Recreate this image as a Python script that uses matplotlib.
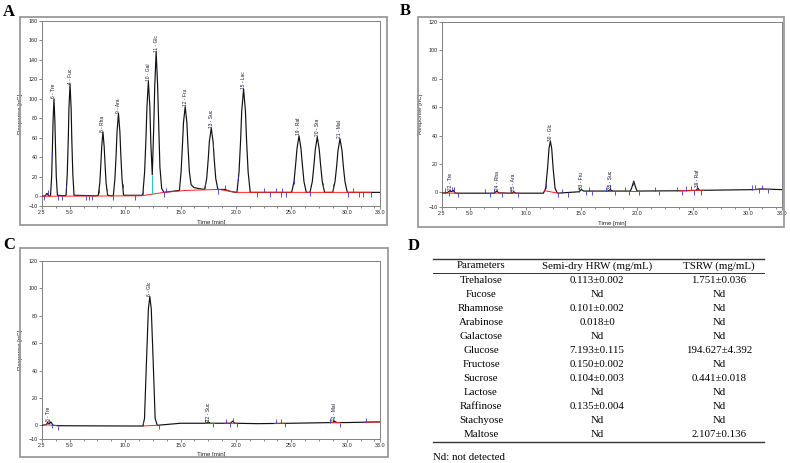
import numpy as np
import matplotlib
matplotlib.use("Agg")
import matplotlib.pyplot as plt
from matplotlib.patches import Rectangle
from matplotlib.lines import Line2D

W, H = 790, 463

# ---- panel A: standard mix chromatogram ----
a_time = [2.5, 2.8, 2.95, 3.1, 3.2,
          3.27, 3.37, 3.44, 3.50, 3.58, 3.66, 3.72, 3.79, 3.89, 4.5,
          4.67, 4.78, 4.87, 4.93, 5.03, 5.13, 5.19, 5.28, 5.39, 7.4,
          7.58, 7.72, 7.81, 7.89, 8.0, 8.11, 8.19, 8.28, 8.42, 8.8,
          8.94, 9.08, 9.19, 9.27, 9.4, 9.53, 9.61, 9.72, 9.86, 11.5,
          11.6, 11.76, 11.88, 11.97, 12.1, 12.23, 12.32, 12.45, 12.58, 12.67, 12.8, 12.93, 13.03,
          13.14, 13.3, 13.5, 14.9,
          15.05, 15.17, 15.27, 15.42, 15.57, 15.67, 15.8, 15.95, 16.2, 16.6,
          17.17, 17.36, 17.5, 17.6, 17.77, 17.94, 18.04, 18.18, 18.37, 19.0, 19.5, 20.0,
          20.09, 20.28, 20.42, 20.52, 20.69, 20.86, 20.96, 21.1, 21.29, 25.0,
          25.03, 25.24, 25.39, 25.51, 25.69, 25.87, 25.99, 26.14, 26.35,
          26.68, 26.89, 27.04, 27.16, 27.34, 27.52, 27.64, 27.79, 28.0,
          28.73, 28.94, 29.09, 29.21, 29.39, 29.57, 29.69, 29.84, 30.05, 33.0]
a_resp = [0, 0.5, 3, 0.5, 0,
          1, 20, 50, 78, 100, 78, 50, 20, 1, 0.5,
          1, 23, 58, 90, 115, 90, 58, 23, 1, 0.5,
          1, 14, 33, 51, 66, 51, 33, 14, 1, 0.5,
          1, 18, 43, 66, 85, 66, 43, 18, 1, 1,
          2, 25, 59, 92, 118, 92, 55, 22, 70, 112, 148, 115, 74,
          30, 8, 4, 6,
          25, 52, 76, 92, 76, 52, 25, 12, 9, 8,
          7, 18, 38, 56, 70, 56, 38, 18, 7, 7, 5, 4,
          4, 25, 57, 87, 110, 87, 57, 25, 4, 4,
          4, 15, 33, 49, 62, 49, 33, 15, 4,
          4, 15, 32, 48, 61, 48, 32, 15, 4,
          4, 15, 31, 47, 59, 47, 31, 15, 4, 4]
a_base_time = [2.5, 11.5, 13.5, 15.5, 18.5, 19.5, 20.1, 32.2]
a_base_resp = [0, 0.5, 4, 6, 7, 5, 4, 4]
a_split_time = 12.45   # Gal / Glc drop line
a_split_top = 22
a_peak_time = [3.58, 5.03, 8.0, 9.4, 12.1, 12.8, 15.42, 17.77, 20.69, 25.69, 27.34, 29.39]
a_peak_height = [100, 115, 66, 85, 118, 148, 92, 70, 110, 62, 61, 59]
a_peak_label = ["6 - Tre", "4 - Fuc", "8 - Rha", "9 - Ara", "10 - Gal", "11 - Glc", "12 - Fru",
                "13 - Suc", "15 - Lac", "19 - Raf", "20 - Sta", "21 - Mal"]
a_events = [2.68, 3.04, 3.43, 3.9, 4.34, 4.7, 6.44, 6.75, 7.05, 7.6, 8.35, 8.91, 9.8, 10.87, 11.59,
            13.52, 13.73, 17.2, 17.95, 18.4, 19.0, 20.2, 21.9, 22.5, 23.1, 23.6, 24.05, 24.2,
            24.5, 25.2, 26.7, 27.9, 28.8, 30.1, 30.6, 31.1, 31.5, 32.2]
a_event_dir = [-1, 1, -1, -1, -1, 1, -1, -1, -1, 1, -1, -1, 1, -1, 1,
               -1, 1, 1, -1, -1, 1, 1, -1, 1, -1, 1, -1, 1,
               -1, 1, -1, 1, 1, -1, 1, -1, -1, -1]

# ---- panel B: semi-dry HRW ----
b_time = [2.5, 3.0, 3.2, 3.35, 3.5, 3.7, 7.2, 7.4, 7.6, 8.8, 8.95, 9.1, 11.6,
          11.8, 11.97, 12.1, 12.22, 12.34, 12.47, 12.64, 12.85,
          14.8, 15.0, 15.2, 17.4, 17.6, 17.8, 19.4, 19.55, 19.7, 19.85, 20.0, 24.0,
          25.3, 25.45, 25.6, 30.5, 31.0, 33.0]
b_resp = [-0.5, 0, 1.2, 0.5, 1.5, -0.5, -0.5, 1, -0.3, -0.5, 0.5, -0.5, -0.5,
          3, 17, 31, 36, 31, 17, 3, -0.5,
          0.5, 2, 1, 1, 2, 1, 1, 4, 8, 4, 1, 1.2,
          1.5, 3, 1.5, 2, 2.5, 2]
b_base_segments = [(2.6, 4.0), (7.0, 8.0), (8.6, 9.4), (11.7, 12.9), (15.3, 16.0),
                   (17.1, 20.0), (23.8, 26.0), (30.4, 32.0)]
b_peak_time = [3.3, 7.45, 8.95, 12.22, 15.0, 17.6, 25.45]
b_peak_height = [1.5, 1, 0.5, 36, 2, 2, 3]
b_peak_label = ["22 - Tre", "24 - Rha", "25 - Ara", "30 - Glc", "33 - Fru", "35 - Suc", "39 - Raf"]
b_events = [2.8, 3.1, 3.4, 3.6, 3.9, 6.4, 6.8, 7.2, 7.9, 8.7, 9.3, 11.8, 12.9, 13.3, 13.8,
            14.8, 15.4, 15.7, 16.0, 17.2, 17.6, 18.0, 18.9, 19.3, 19.6, 20.2, 21.6, 22.0,
            23.6, 24.0, 24.4, 24.8, 25.1, 25.4, 25.7, 30.3, 30.6, 30.9, 31.2, 31.7]
b_event_dir = [1, -1, 1, 1, -1, 1, -1, 1, -1, 1, -1, 1, -1, 1, -1,
               1, -1, 1, -1, 1, 1, -1, 1, -1, 1, -1, 1, -1,
               1, -1, 1, 1, -1, 1, -1, 1, 1, -1, 1, -1]

# ---- panel C: TSRW ----
c_time = [2.5, 2.9, 3.0, 3.15, 3.3, 3.5, 4.0, 10.0, 11.6,
          11.75, 11.92, 12.1, 12.23, 12.36, 12.54, 12.71, 12.9,
          15.0, 17.3, 17.5, 17.7, 19.5, 19.7, 19.9, 22.0, 25.0, 28.7, 28.9, 29.1, 30.0, 33.0]
c_resp = [0, 0.5, 2, 1, 2.5, 0, -0.3, -0.5, -0.5,
          5, 45, 85, 94, 85, 45, 5, 0,
          1.5, 1.5, 2.5, 1.5, 1.5, 3, 1.5, 1.2, 1.5, 2, 3, 2, 2, 2.5]
c_base_segments = [(2.8, 3.8), (11.6, 12.9), (17.2, 18.0), (19.0, 20.1), (23.5, 24.4), (28.5, 29.4),
                   (31.6, 33.0)]
c_peak_time = [3.1, 12.23, 17.5, 28.9]
c_peak_height = [2.5, 94, 2.5, 3]
c_peak_label = ["8 - Tre", "6 - Glc", "12 - Suc", "21 - Mal"]
c_events = [3.1, 3.4, 3.9, 11.6, 13.1, 17.25, 17.95, 19.1, 19.45, 19.75, 20.1, 23.6, 24.1,
            24.4, 28.5, 28.8, 29.4, 31.7]
c_event_dir = [1, -1, -1, 1, -1, 1, -1, 1, -1, 1, -1, 1, 1, -1, 1, 1, -1, 1]

# ---- panel D: table ----
sugars = ["Trehalose", "Fucose", "Rhamnose", "Arabinose", "Galactose", "Glucose", "Fructose",
          "Sucrose", "Lactose", "Raffinose", "Stachyose", "Maltose"]
hrw = ["0.113±0.002", "Nd", "0.101±0.002", "0.018±0", "Nd", "7.193±0.115", "0.150±0.002",
       "0.104±0.003", "Nd", "0.135±0.004", "Nd", "Nd"]
tsrw = ["1.751±0.036", "Nd", "Nd", "Nd", "Nd", "194.627±4.392", "Nd", "0.441±0.018", "Nd", "Nd",
        "Nd", "2.107±0.136"]
headers = ["Parameters", "Semi-dry HRW (mg/mL)", "TSRW (mg/mL)"]

SANS = "Liberation Sans"
SERIF = "Liberation Serif"


def fig_rect(l, t, r, b):
    return [l / W, 1 - b / H, (r - l) / W, (b - t) / H]


fig = plt.figure(figsize=(7.9, 4.63), dpi=100)


def frame(l, t, r, b):
    fig.add_artist(Rectangle((l / W, 1 - b / H), (r - l) / W, (b - t) / H,
                             transform=fig.transFigure, fill=False,
                             edgecolor="#9a9a9a", lw=1.3))


def chromatogram(rect, ymax, ystep, tr_t, tr_r, base, peaks, heights, labels, events, dirs,
                 segments=None, mark_len=4.0):
    ax = fig.add_axes(rect)
    ax.plot(tr_t, tr_r, color="#111111", lw=0.85, zorder=3)
    if segments is None:
        bt, br = base
        ax.plot(bt, br, color="#ff2020", lw=0.7, zorder=4)
    else:
        for s0, s1 in segments:
            xs = [s0, s1]
            ax.plot(xs, np.interp(xs, tr_t, tr_r), color="#ff2020", lw=0.7, zorder=4)
    lev = np.interp(events, tr_t, tr_r)
    ax.vlines(events, lev, lev + np.array(dirs) * mark_len, color="#3535d0", lw=0.6, zorder=5)
    for t, h, lab in zip(peaks, heights, labels):
        ax.text(t, h + 0.5, lab, rotation=90, ha="center", va="bottom", fontsize=3.5,
                family=SANS, color="#141430", zorder=6)
    ax.set_xlim(2.5, 33.0)
    ax.set_ylim(-10, ymax)
    ax.set_xticks([2.5, 5.0, 10.0, 15.0, 20.0, 25.0, 30.0, 33.0])
    ax.set_xticklabels(["2.5", "5.0", "10.0", "15.0", "20.0", "25.0", "30.0", "33.0"])
    ax.set_xticks(np.arange(3.75, 33, 1.25), minor=True)
    ax.set_yticks([-10] + list(range(0, ymax + 1, ystep)))
    for sp in ax.spines.values():
        sp.set_color("#808080")
        sp.set_linewidth(0.7)
    ax.tick_params(axis="both", which="major", length=2, width=0.5, pad=1, labelsize=3.9,
                   colors="#555555", labelcolor="#222222")
    ax.tick_params(axis="x", which="minor", length=1.5, width=0.5, colors="#555555")
    for lab in ax.get_xticklabels() + ax.get_yticklabels():
        lab.set_family(SANS)
    ax.set_xlabel("Time [min]", fontsize=4.4, family=SANS, color="#222222")
    ax.set_ylabel("Response [nC]", fontsize=4.4, family=SANS, color="#222222")
    ax.xaxis.set_label_coords(0.5, -0.075)
    ax.yaxis.set_label_coords(-0.056, 0.5)
    return ax


frame(20, 17, 387, 225)
ax_a = chromatogram(fig_rect(42, 21, 380, 206), 180, 20, a_time, a_resp, (a_base_time, a_base_resp),
                    a_peak_time, a_peak_height, a_peak_label, a_events, a_event_dir, mark_len=4.5)
ax_a.vlines(a_split_time, np.interp(a_split_time, a_base_time, a_base_resp), a_split_top,
            color="#20c8d0", lw=0.8, zorder=4)

frame(418, 17, 784, 227)
chromatogram(fig_rect(442, 21.7, 782, 206.7), 120, 20, b_time, b_resp, None,
             b_peak_time, b_peak_height, b_peak_label, b_events, b_event_dir,
             segments=b_base_segments, mark_len=3.0)

frame(20, 248, 388, 457)
chromatogram(fig_rect(42, 261, 380, 439), 120, 20, c_time, c_resp, None,
             c_peak_time, c_peak_height, c_peak_label, c_events, c_event_dir,
             segments=c_base_segments, mark_len=3.0)

# panel letters
for letter, px, py in [("A", 3, 12), ("B", 400, 11), ("C", 3, 245), ("D", 408, 246)]:
    fig.text(px / W, 1 - py / H, letter, fontsize=12, fontweight="bold", family=SERIF,
             ha="left", va="center")

# table
col_x = [481, 597, 719]
tbl_l, tbl_r = 433, 764
for yy, lw in [(259, 1.0), (273.3, 0.7), (441.7, 1.0)]:
    fig.add_artist(Line2D([tbl_l / W, tbl_r / W], [1 - yy / H, 1 - yy / H],
                          transform=fig.transFigure, color="#333333", lw=lw))
for cx, htxt in zip(col_x, headers):
    fig.text(cx / W, 1 - 266 / H, htxt, fontsize=7.8, family=SERIF, ha="center", va="center")
row_y0, row_dy = 280.7, 13.94
for i, (s, v1, v2) in enumerate(zip(sugars, hrw, tsrw)):
    yy = 1 - (row_y0 + i * row_dy) / H
    for cx, txt in zip(col_x, [s, v1, v2]):
        fig.text(cx / W, yy, txt, fontsize=7.8, family=SERIF, ha="center", va="center")
fig.text(433 / W, 1 - 457.5 / H, "Nd: not detected", fontsize=7.8, family=SERIF,
         ha="left", va="center")

fig.savefig("out.png", dpi=100)
